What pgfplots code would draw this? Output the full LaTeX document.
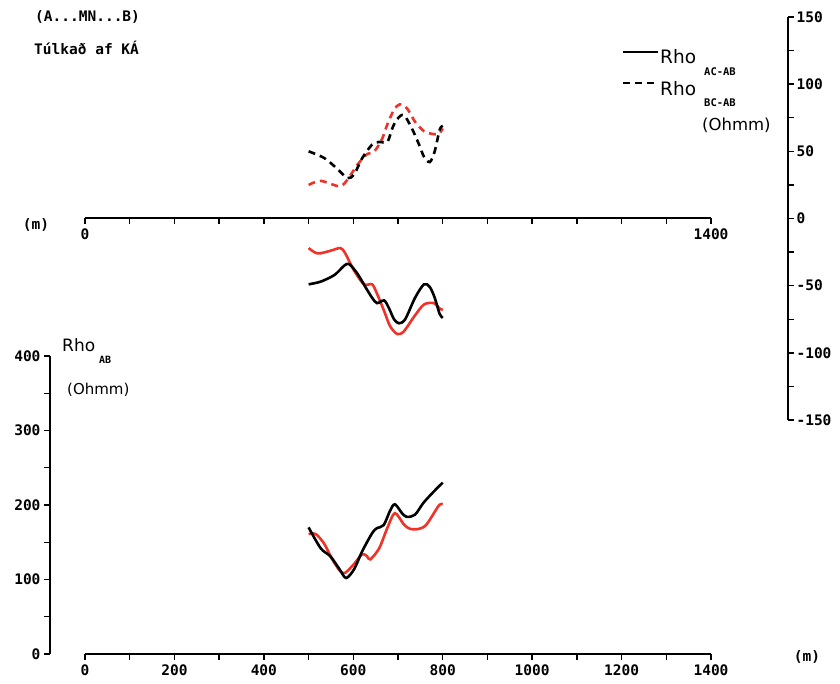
\documentclass[border=0pt]{standalone}
\usepackage{pgfplots}
\pgfplotsset{compat=1.18}
\usepackage{fontspec}
\setmainfont{DejaVu Sans}
\newfontfamily\plotfont{DejaVu Sans Mono}
\definecolor{pred}{RGB}{240,50,40}
\newcommand{\tf}{\plotfont\bfseries\fontsize{14.5}{14.5}\selectfont}
\pgfplotstableread{
x y
500 170
527 142
549 131
569 114
584 102
602 114
620 138
642 162
653 169
668 173
682 192
693 201
709 189
720 184
738 187
757 203
780 218
800 230
}\abBlack
\pgfplotstableread{
x y
500 161
516 161
535 148
553 127
571 111
582 109
602 121
620 134
631 131
638 127
658 142
676 169
693 189
713 174
727 168
747 168
764 174
791 199
800 201
}\abRed
\pgfplotstableread{
x y
500 -22
520 -26
549 -24
571 -22
582 -26
602 -39
624 -49
642 -49
653 -56
669 -69
682 -80
698 -86
713 -84
736 -73
758 -64
780 -63
793 -67
800 -68
}\acRed
\pgfplotstableread{
x y
500 -49
527 -47
558 -42
580 -35
591 -34
609 -41
627 -51
642 -59
653 -63
669 -61
680 -67
691 -75
702 -78
716 -75
738 -59
758 -49
771 -51
782 -59
793 -71
800 -74
}\acBlack
\pgfplotstableread{
x y
500 50
535 45
564 37
587 30
602 33
620 45
642 55
658 57
676 57
687 67
698 74
713 77
731 67
747 55
758 46
771 42
782 50
793 66
800 69
}\bcBlack
\pgfplotstableread{
x y
500 25
527 28
569 24
587 29
609 40
631 48
647 50
664 59
676 70
691 81
704 85
720 82
738 72
758 65
776 63
791 63
800 67
}\bcRed
\begin{document}
\begin{tikzpicture}
\path[use as bounding box] (0pt,0pt) rectangle (840pt,683pt);
\pgfplotsset{
  every axis/.append style={scale only axis, clip=false,
    every tick/.style={line width=1.4pt, black},
    major tick length=6pt, minor tick length=6pt,
    ticklabel style={font=\tf}},
  myaxis/.style={tick align=outside,
    every outer x axis line/.append style={-},
    every outer y axis line/.append style={-},
    x axis line style={-, line width=1.6pt},
    y axis line style={-, line width=1.6pt}},
}
% bottom data + x axis
\begin{axis}[at={(85pt,29pt)}, anchor=south west, width=626pt, height=298pt,
  xmin=0, xmax=1400, ymin=0, ymax=400,
  axis x line=bottom, axis y line=none, myaxis,
  xtick={0,200,400,600,800,1000,1200,1400},
  xticklabels={0,200,400,600,800,1000,1200,1400},
  minor xtick={100,300,500,700,900,1100,1300},
  xticklabel style={yshift=-1pt}]
\addplot[pred, line width=2.6pt, smooth, tension=0.5] table {\abRed};
\addplot[black, line width=2.6pt, smooth, tension=0.5] table {\abBlack};
\end{axis}
% left y axis
\begin{axis}[at={(50pt,29pt)}, anchor=south west, width=1pt, height=298pt,
  xmin=0, xmax=1, ymin=0, ymax=400,
  axis y line=left, axis x line=none, myaxis,
  ytick={0,100,200,300,400}, yticklabels={0,100,200,300,400},
  minor ytick={50,150,250,350}]
\end{axis}
% top x axis
\begin{axis}[at={(85pt,465pt)}, anchor=south west, width=626pt, height=1pt,
  xmin=0, xmax=1400, ymin=0, ymax=1,
  axis x line=bottom, axis y line=none, myaxis,
  xtick={0,1400}, xticklabels={0,1400},
  minor xtick={100,200,...,1300},
  xticklabel style={yshift=-1pt}]
\end{axis}
% top data + right y axis
\begin{axis}[at={(85pt,263pt)}, anchor=south west, width=703pt, height=403pt,
  xmin=0, xmax=1572, ymin=-150, ymax=150,
  axis y line=right, axis x line=none, myaxis,
  ytick={-150,-100,-50,0,50,100,150},
  yticklabels={-150,-100,-50,0,50,100,150},
  minor ytick={-125,-75,-25,25,75,125},
  yticklabel style={xshift=-1pt}]
\addplot[pred, line width=2.6pt, smooth, tension=0.5] table {\acRed};
\addplot[black, line width=2.6pt, smooth, tension=0.5] table {\acBlack};
\addplot[pred, line width=2.6pt, smooth, tension=0.5, dash pattern=on 7pt off 5pt] table {\bcRed};
\addplot[black, line width=2.6pt, smooth, tension=0.5, dash pattern=on 7pt off 5pt] table {\bcBlack};
\end{axis}
% texts
\node[anchor=west, inner sep=0pt, font=\plotfont\bfseries\fontsize{14.5}{15}\selectfont] at (35pt,666pt) {(A...MN...B)};
\node[anchor=west, inner sep=0pt, font=\plotfont\bfseries\fontsize{14.5}{15}\selectfont] at (34pt,635pt) {Túlkað af KÁ};
\node[inner sep=0pt, font=\plotfont\bfseries\fontsize{14.5}{15}\selectfont] at (36pt,458pt) {(m)};
\node[inner sep=0pt, font=\plotfont\bfseries\fontsize{14.5}{15}\selectfont] at (807pt,26pt) {(m)};
% legend
\draw[black, line width=1.6pt] (623pt,631pt) -- (658pt,631pt);
\draw[black, line width=1.6pt, dash pattern=on 7pt off 5pt] (623pt,600pt) -- (658pt,600pt);
\node[anchor=west, inner sep=0pt, font=\fontsize{18.5}{18}\selectfont] at (660pt,626pt) {Rho};
\node[anchor=west, inner sep=0pt, font=\plotfont\bfseries\fontsize{10.5}{10}\selectfont] at (704pt,611pt) {AC-AB};
\node[anchor=west, inner sep=0pt, font=\fontsize{18.5}{18}\selectfont] at (660pt,594pt) {Rho};
\node[anchor=west, inner sep=0pt, font=\plotfont\bfseries\fontsize{10.5}{10}\selectfont] at (704pt,580pt) {BC-AB};
\node[anchor=west, inner sep=0pt, font=\fontsize{16.5}{17}\selectfont] at (702pt,558pt) {(Ohmm)};
% bottom-left label
\node[anchor=west, inner sep=0pt, font=\fontsize{17}{17}\selectfont] at (62pt,338pt) {Rho};
\node[anchor=west, inner sep=0pt, font=\plotfont\bfseries\fontsize{10}{10}\selectfont] at (99pt,323pt) {AB};
\node[anchor=west, inner sep=0pt, font=\fontsize{15}{15}\selectfont] at (67pt,293pt) {(Ohmm)};
\end{tikzpicture}
\end{document}
